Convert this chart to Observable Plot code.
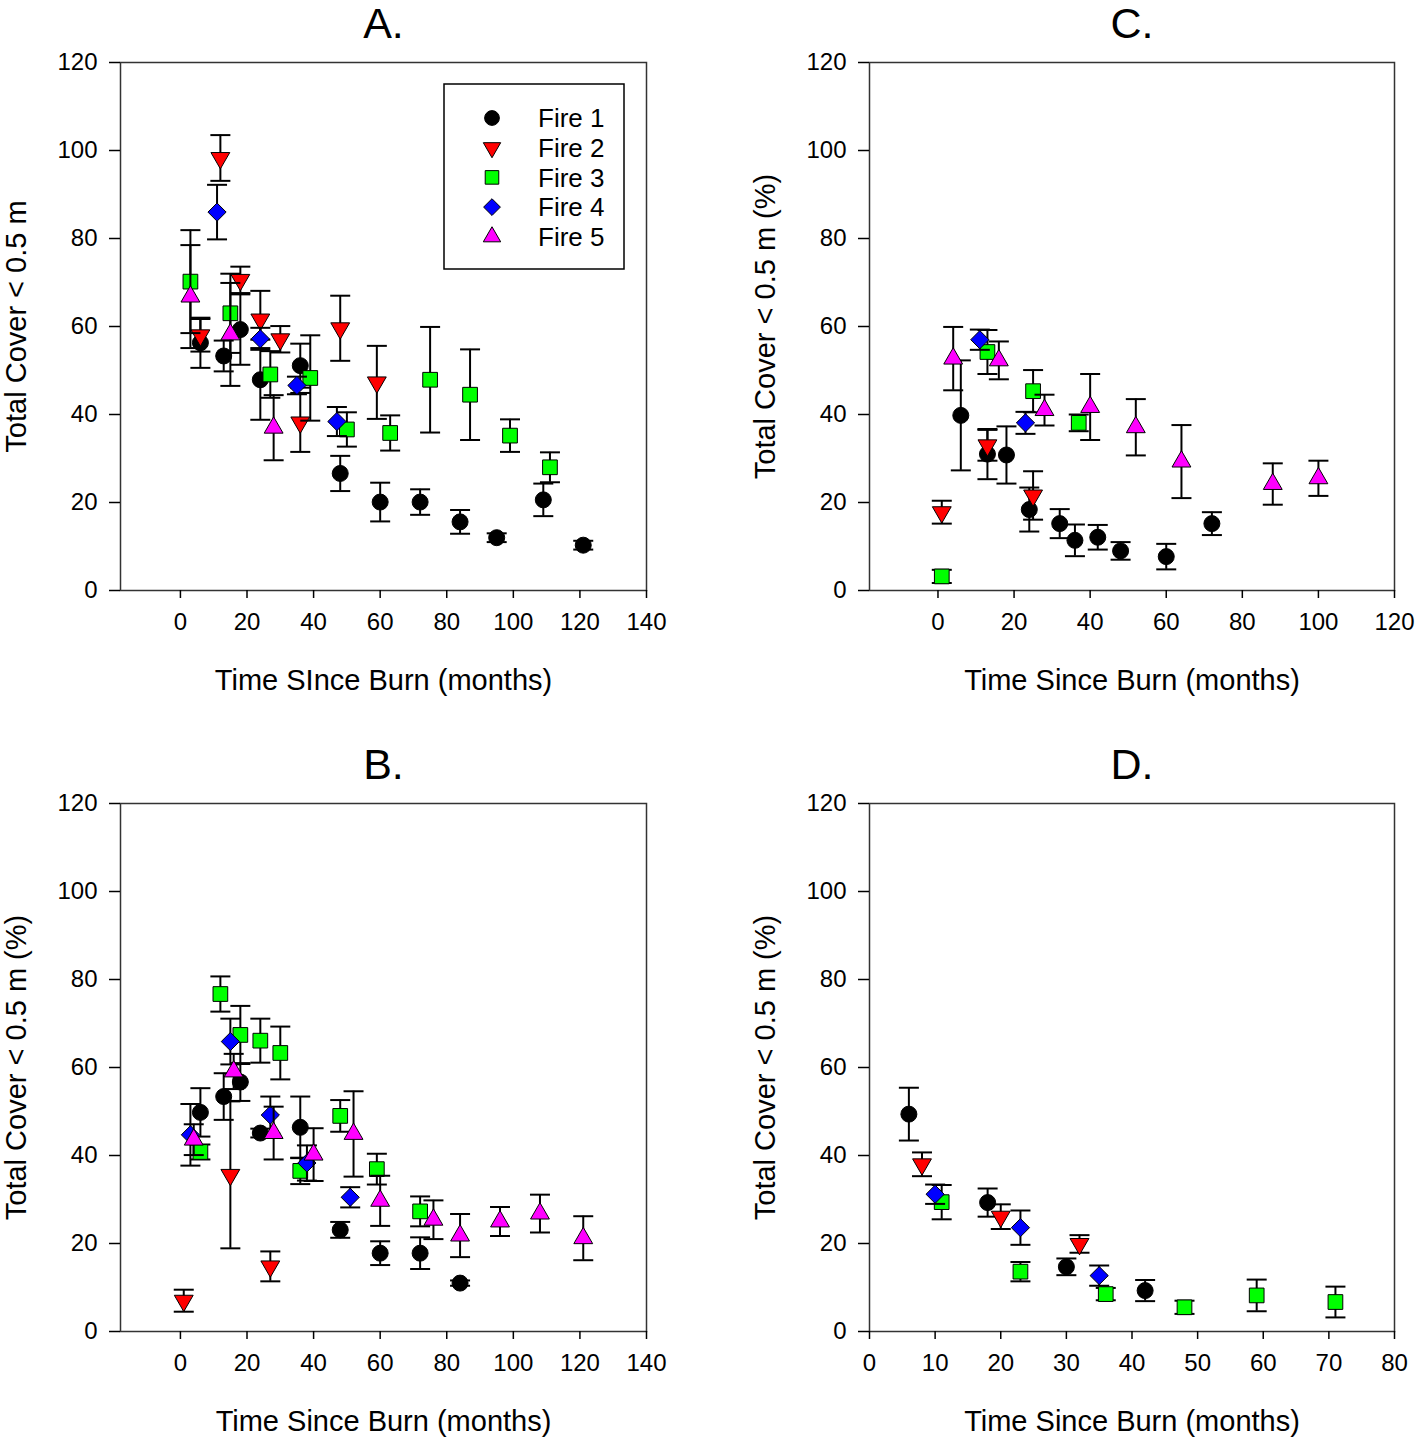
<!DOCTYPE html>
<html><head><meta charset="utf-8">
<script src="https://cdn.jsdelivr.net/npm/d3@7"></script>
<script src="https://cdn.jsdelivr.net/npm/@observablehq/plot@0.6"></script>
<style>
body{margin:0;background:#fff;font-family:"Liberation Sans",Arial,sans-serif;}
#wrap{position:relative;width:1416px;height:1437px;overflow:hidden;}
.panel{position:absolute;}
</style></head><body><div id="wrap"></div>
<script>
const fires = ["Fire 1","Fire 2","Fire 3","Fire 4","Fire 5"];
const fireSymbols = ["circle","triangle","square","diamond2","triangle"];
const fireFills = ["#000000","#ff0000","#00ff00","#0000ff","#ff00ff"];
const fireRotate = [0,180,0,0,0];
const fireRadius = [8,7,8.3,8.2,7];

const yTicks = [0,20,40,60,80,100,120];
const xTicksLong = [0,20,40,60,80,100,120,140];
const xTicksC = [0,20,40,60,80,100,120];
const xTicksD = [0,10,20,30,40,50,60,70,80];

// rows: [months since burn, mean total cover, error]
const A_fire1 = [[6,56.3,5.7],[13,53.3,3.5],[18,59.3,8.0],[24,47.9,9.1],[36,51.1,5.0],[48,26.6,4.0],[60,20.1,4.4],[72,20.1,2.9],[84,15.6,2.7],[95,12.0,1.0],[109,20.6,3.7],[121,10.3,1.0]];
const A_fire2 = [[6,58.0,3.7],[12,98.3,5.2],[18,70.6,3.0],[24,61.6,6.5],[30,57.1,3.0],[36,38.2,6.7],[48,59.6,7.4],[59,47.3,8.3]];
const A_fire3 = [[3,70.2,11.7],[15,63.0,9.0],[27,49.1,5.3],[39,48.3,9.7],[50,36.6,3.9],[63,35.8,4.0],[75,47.9,12.0],[87,44.5,10.3],[99,35.2,3.7],[111,28.0,3.4]];
const A_fire4 = [[11,86.0,6.2],[24,57.2,2.5],[35,46.6,2.0],[47,38.4,3.3]];
const A_fire5 = [[3,66.8,11.7],[15,58.2,11.7],[28,37.0,7.4]];

const B_fire1 = [[6,49.8,5.5],[13,53.4,5.3],[18,56.7,4.3],[24,45.1,1.0],[36,46.4,7.0],[48,23.1,1.8],[60,17.8,2.7],[72,17.8,3.6],[84,11.0,0.6]];
const B_fire2 = [[1,7.0,2.5],[15,35.6,16.7],[27,14.8,3.4]];
const B_fire3 = [[6,40.8,1.7],[12,76.7,4.0],[18,67.4,6.6],[24,66.1,5.0],[30,63.3,6.0],[36,36.5,3.0],[48,49.0,3.6],[59,36.9,3.5],[72,27.3,3.4]];
const B_fire4 = [[3,44.7,7.0],[15,65.9,5.2],[27,49.2,4.2],[38,38.3,4.0],[51,30.5,2.3]];
const B_fire5 = [[4,43.6,3.5],[16,59.1,4.0],[28,45.1,6.0],[40,40.2,6.0],[52,44.9,9.7],[60,29.7,5.7],[76,25.4,4.4],[84,21.8,4.9],[96,25.0,3.3],[108,26.8,4.3],[121,21.2,5.0]];

const C_fire1 = [[6,39.8,12.5],[13,31.0,5.7],[18,30.8,6.5],[24,18.4,5.0],[32,15.2,3.3],[36,11.4,3.6],[42,12.1,2.8],[48,9.0,2.0],[60,7.7,2.9],[72,15.2,2.6]];
const C_fire2 = [[1,17.8,2.6],[13,33.0,3.5],[25,21.6,5.5]];
const C_fire3 = [[1,3.2,1.5],[13,54.2,5.0],[25,45.3,4.8],[37,38.1,1.9]];
const C_fire4 = [[11,57.0,2.3],[23,38.1,2.5]];
const C_fire5 = [[4,52.7,7.2],[16,52.3,4.3],[28,41.0,3.5],[40,41.7,7.5],[52,37.1,6.4],[64,29.3,8.3],[88,24.2,4.7],[100,25.5,4.0]];

const D_fire1 = [[6,49.4,6.0],[18,29.3,3.2],[30,14.7,1.9],[42,9.3,2.4]];
const D_fire2 = [[8,38.0,2.7],[20,26.1,2.8],[32,19.9,2.0]];
const D_fire3 = [[11,29.4,3.9],[23,13.6,2.2],[36,8.5,1.4],[48,5.5,1.5],[59,8.2,3.6],[71,6.7,3.5]];
const D_fire4 = [[10,31.2,2.2],[23,23.6,3.9],[35,12.7,2.3]];

const capSymbol = {draw(ctx){ ctx.moveTo(-10,0); ctx.lineTo(10,0); }};
const FONT = "'Liberation Sans', Arial, sans-serif";

function makePanel(cfg){
  const marks = [
    Plot.frame({stroke:"#333", strokeWidth:1.5}),
    Plot.axisY({ticks:yTicks, tickSize:11, tickPadding:12, fontSize:24, label:null, strokeWidth:1.5}),
    Plot.axisX({ticks:cfg.xTicks, tickSize:8, tickPadding:14, fontSize:24, label:null, strokeWidth:1.5}),
    Plot.text([cfg.title], {text:d=>d, frameAnchor:"top", lineAnchor:"middle", dy:-38, fontSize:43}),
    Plot.text([cfg.xLabel], {text:d=>d, frameAnchor:"bottom", lineAnchor:"middle", dy:90, fontSize:29}),
    Plot.text([cfg.yLabel], {text:d=>d, frameAnchor:"left", textAnchor:"middle", lineAnchor:"middle", dx:-104, rotate:-90, fontSize:29})
  ];
  cfg.series.forEach(([rows,k])=>{
    const data = rows.map(([t,v,e])=>({t, v, lo:v-e, hi:v+e, fire:fires[k]}));
    marks.push(Plot.ruleX(data,{x:"t", y1:"lo", y2:"hi", stroke:"black", strokeWidth:2}));
    marks.push(Plot.dot(data,{x:"t", y:"hi", symbol:capSymbol, stroke:"black", strokeWidth:2, fill:"none"}));
    marks.push(Plot.dot(data,{x:"t", y:"lo", symbol:capSymbol, stroke:"black", strokeWidth:2, fill:"none"}));
    marks.push(Plot.dot(data,{x:"t", y:"v", symbol:fireSymbols[k], r:fireRadius[k], fill:fireFills[k], stroke:"black", strokeWidth:1, rotate:fireRotate[k]}));
  });
  const svg = Plot.plot({
    width:cfg.width, height:cfg.mt + 528 + 106,
    marginLeft:cfg.ml, marginRight:cfg.mr, marginTop:cfg.mt, marginBottom:106,
    x:{domain:cfg.xDomain},
    y:{domain:[0,120]},
    style:{fontFamily:FONT, color:"black", background:"white"},
    marks
  });
  const div = document.createElement("div");
  div.className = "panel";
  div.style.left = cfg.left+"px"; div.style.top = cfg.top+"px"; div.style.width = cfg.width+"px";
  div.appendChild(svg);
  document.getElementById("wrap").appendChild(div);
}

makePanel({title:"A.", xLabel:"Time SInce Burn (months)", yLabel:"Total Cover < 0.5 m",
  xDomain:[-18,140], xTicks:xTicksLong, left:0, top:0, mt:62, width:700, ml:120, mr:54,
  series:[[A_fire1,0],[A_fire2,1],[A_fire3,2],[A_fire4,3],[A_fire5,4]]});
makePanel({title:"C.", xLabel:"Time Since Burn (months)", yLabel:"Total Cover < 0.5 m (%)",
  xDomain:[-18,120], xTicks:xTicksC, left:745, top:0, mt:62, width:671, ml:124, mr:22,
  series:[[C_fire1,0],[C_fire2,1],[C_fire3,2],[C_fire4,3],[C_fire5,4]]});
makePanel({title:"B.", xLabel:"Time Since Burn (months)", yLabel:"Total Cover < 0.5 m (%)",
  xDomain:[-18,140], xTicks:xTicksLong, left:0, top:703, mt:100, width:700, ml:120, mr:54,
  series:[[B_fire1,0],[B_fire2,1],[B_fire3,2],[B_fire4,3],[B_fire5,4]]});
makePanel({title:"D.", xLabel:"Time Since Burn (months)", yLabel:"Total Cover < 0.5 m (%)",
  xDomain:[0,80], xTicks:xTicksD, left:745, top:703, mt:100, width:671, ml:124, mr:22,
  series:[[D_fire1,0],[D_fire2,1],[D_fire3,2],[D_fire4,3]]});

// legend for panel A
(function(){
  const svg = d3.select("#wrap").append("svg")
    .attr("width",200).attr("height",200)
    .style("position","absolute").style("left","440px").style("top","80px")
    .style("font-family",FONT);
  svg.append("rect").attr("x",4).attr("y",4).attr("width",180).attr("height",185)
    .attr("fill","white").attr("stroke","black").attr("stroke-width",1.5);
  const typeMap = {circle:d3.symbolCircle, triangle:d3.symbolTriangle, square:d3.symbolSquare, diamond2:d3.symbolDiamond2};
  fires.forEach((f,k)=>{
    const y = 38 + k*29.7;
    svg.append("path")
      .attr("d", d3.symbol().type(typeMap[fireSymbols[k]]).size(Math.PI*fireRadius[k]*fireRadius[k]*0.85)())
      .attr("transform",`translate(52,${y}) rotate(${fireRotate[k]})`)
      .attr("fill",fireFills[k]).attr("stroke","black").attr("stroke-width",1);
    svg.append("text").attr("x",98).attr("y",y).attr("dy","0.35em")
      .attr("font-size",26).attr("fill","black").text(f);
  });
})();
</script></body></html>
